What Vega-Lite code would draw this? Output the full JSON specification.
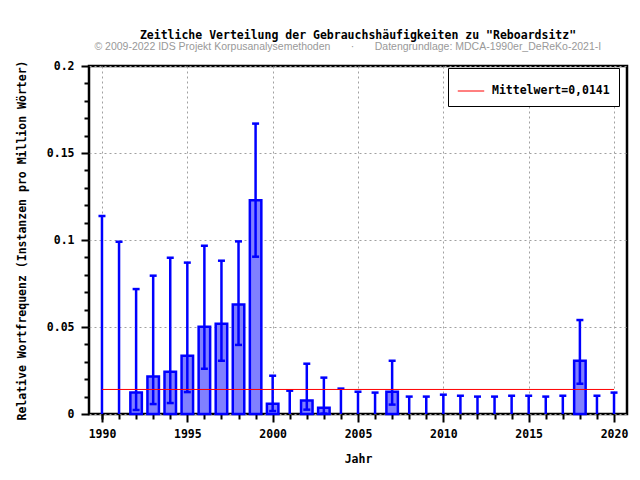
{
  "$schema": "https://vega.github.io/schema/vega-lite/v6.json",
  "width": 538,
  "height": 348,
  "autosize": {"type": "none"},
  "padding": {"left": 89, "top": 66, "right": 13, "bottom": 66},
  "background": "white",
  "title": {
    "text": "Zeitliche Verteilung der Gebrauchshäufigkeiten zu \"Reboardsitz\"",
    "subtitle": "© 2009-2022 IDS Projekt Korpusanalysemethoden\u00a0\u00a0\u00a0\u00a0\u00a0\u00a0\u00a0·\u00a0\u00a0\u00a0\u00a0\u00a0\u00a0\u00a0Datengrundlage: MDCA-1990er_DeReKo-2021-I\u00a0\u00a0\u00a0\u00a0\u00a0\u00a0\u00a0\u200b",
    "font": "DejaVu Sans Mono",
    "fontSize": 11.5,
    "fontWeight": "bold",
    "color": "black",
    "subtitleFont": "Liberation Sans",
    "subtitleFontSize": 10.5,
    "subtitleColor": "#999999",
    "subtitlePadding": 1,
    "anchor": "middle",
    "offset": 7
  },
  "config": {
    "view": {"stroke": "black", "strokeWidth": 2.5},
    "axis": {
      "labelFont": "DejaVu Sans Mono",
      "labelFontWeight": "bold",
      "labelFontSize": 11.5,
      "labelColor": "black",
      "titleFont": "DejaVu Sans Mono",
      "titleFontWeight": "bold",
      "titleFontSize": 11.5,
      "titleColor": "black",
      "domain": false,
      "tickColor": "black",
      "tickWidth": 2,
      "gridColor": "#a0a0a0",
      "gridDash": [2, 3],
      "gridWidth": 1
    }
  },
  "datasets": {
    "freq": [
      {"year": 1990, "value": 0, "lo": 0, "hi": 0.1138},
      {"year": 1991, "value": 0, "lo": 0, "hi": 0.099},
      {"year": 1992, "value": 0.0123, "lo": 0.0023, "hi": 0.0718},
      {"year": 1993, "value": 0.0215, "lo": 0.0057, "hi": 0.0795},
      {"year": 1994, "value": 0.0243, "lo": 0.0063, "hi": 0.0898},
      {"year": 1995, "value": 0.0335, "lo": 0.0126, "hi": 0.087},
      {"year": 1996, "value": 0.0502, "lo": 0.026, "hi": 0.0967},
      {"year": 1997, "value": 0.0519, "lo": 0.0306, "hi": 0.0881},
      {"year": 1998, "value": 0.063, "lo": 0.0397, "hi": 0.0992},
      {"year": 1999, "value": 0.1228, "lo": 0.0904, "hi": 0.1669},
      {"year": 2000, "value": 0.0059, "lo": 0.0017, "hi": 0.022},
      {"year": 2001, "value": 0, "lo": 0, "hi": 0.0134},
      {"year": 2002, "value": 0.0077, "lo": 0.0025, "hi": 0.0289},
      {"year": 2003, "value": 0.0036, "lo": 0.0002, "hi": 0.0209},
      {"year": 2004, "value": 0, "lo": 0, "hi": 0.0146},
      {"year": 2005, "value": 0, "lo": 0, "hi": 0.0128},
      {"year": 2006, "value": 0, "lo": 0, "hi": 0.0123},
      {"year": 2007, "value": 0.0128, "lo": 0.0054, "hi": 0.0306},
      {"year": 2008, "value": 0, "lo": 0, "hi": 0.01},
      {"year": 2009, "value": 0, "lo": 0, "hi": 0.01},
      {"year": 2010, "value": 0, "lo": 0, "hi": 0.0111},
      {"year": 2011, "value": 0, "lo": 0, "hi": 0.0105},
      {"year": 2012, "value": 0, "lo": 0, "hi": 0.01},
      {"year": 2013, "value": 0, "lo": 0, "hi": 0.01},
      {"year": 2014, "value": 0, "lo": 0, "hi": 0.0105},
      {"year": 2015, "value": 0, "lo": 0, "hi": 0.0105},
      {"year": 2016, "value": 0, "lo": 0, "hi": 0.01},
      {"year": 2017, "value": 0, "lo": 0, "hi": 0.0105},
      {"year": 2018, "value": 0.0306, "lo": 0.0174, "hi": 0.054},
      {"year": 2019, "value": 0, "lo": 0, "hi": 0.0105},
      {"year": 2020, "value": 0, "lo": 0, "hi": 0.0123}
    ],
    "mean": [
      {"x1": 1990, "x2": 2020, "y": 0.0141, "label": "Mittelwert=0,0141"}
    ]
  },
  "layer": [
    {
      "data": {"name": "freq"},
      "transform": [{"filter": "datum.value > 0"}],
      "mark": {"type": "bar", "orient": "vertical", "size": 11.5, "fill": "#8080ff", "stroke": "#0000ff", "strokeWidth": 2.5},
      "encoding": {
        "x": {
          "field": "year", "type": "quantitative",
          "scale": {"domain": [1989.24, 2020.76], "nice": false, "zero": false, "padding": 0},
          "axis": {"orient": "bottom", "values": [1990, 1995, 2000, 2005, 2010, 2015, 2020], "format": "d", "tickSize": 8, "grid": true, "title": "Jahr", "labelPadding": 6, "titlePadding": 14}
        },
        "y": {
          "field": "value", "type": "quantitative", "stack": null,
          "scale": {"domain": [0, 0.2], "nice": false, "zero": true, "padding": 0},
          "axis": {"orient": "left", "values": [0, 0.05, 0.1, 0.15, 0.2], "format": "~g", "tickSize": 8, "grid": true, "title": "Relative Wortfrequenz (Instanzen pro Million Wörter)", "labelPadding": 7, "titlePadding": 19}
        }
      }
    },
    {
      "data": {"name": "freq"},
      "mark": {"type": "rule", "stroke": "#0000ff", "strokeWidth": 2.5},
      "encoding": {
        "x": {
          "field": "year", "type": "quantitative",
          "axis": {"orient": "bottom", "values": [1990,1991,1992,1993,1994,1996,1997,1998,1999,2001,2002,2003,2004,2006,2007,2008,2009,2011,2012,2013,2014,2016,2017,2018,2019], "tickSize": 5, "labels": false, "grid": false, "title": null}
        },
        "y": {
          "field": "lo", "type": "quantitative",
          "axis": {"orient": "left", "values": [0.01,0.02,0.03,0.04,0.06,0.07,0.08,0.09,0.11,0.12,0.13,0.14,0.16,0.17,0.18,0.19], "tickSize": 5, "labels": false, "grid": false, "title": null}
        },
        "y2": {"field": "hi"}
      }
    },
    {
      "data": {"name": "freq"},
      "mark": {"type": "tick", "orient": "horizontal", "size": 7, "thickness": 2.5, "color": "#0000ff", "opacity": 1},
      "encoding": {
        "x": {"field": "year", "type": "quantitative", "axis": null},
        "y": {"field": "hi", "type": "quantitative", "axis": null}
      }
    },
    {
      "data": {"name": "freq"},
      "transform": [{"filter": "datum.lo > 0"}],
      "mark": {"type": "tick", "orient": "horizontal", "size": 7, "thickness": 2.5, "color": "#0000ff", "opacity": 1},
      "encoding": {
        "x": {"field": "year", "type": "quantitative", "axis": null},
        "y": {"field": "lo", "type": "quantitative", "axis": null}
      }
    },
    {
      "data": {"name": "mean"},
      "mark": {"type": "rule", "strokeWidth": 1, "opacity": 1},
      "encoding": {
        "x": {"field": "x1", "type": "quantitative", "axis": null},
        "x2": {"field": "x2"},
        "y": {"field": "y", "type": "quantitative", "axis": null},
        "color": {
          "field": "label", "type": "nominal",
          "scale": {"range": ["#ff0000"]},
          "legend": {
            "orient": "none", "legendX": 359, "legendY": 2, "title": null,
            "symbolType": "stroke", "symbolSize": 700, "symbolStrokeWidth": 1, "symbolOpacity": 1,
            "labelFont": "DejaVu Sans Mono", "labelFontWeight": "bold", "labelFontSize": 11.5, "labelColor": "black",
            "labelOffset": 7, "strokeColor": "black", "fillColor": "white", "padding": 9
          }
        }
      }
    }
  ],
  "resolve": {"axis": {"x": "independent", "y": "independent"}}
}
